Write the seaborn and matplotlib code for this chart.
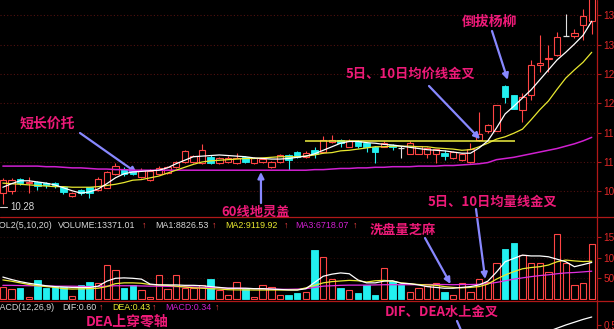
import matplotlib
matplotlib.use("Agg")
import matplotlib.pyplot as plt
from matplotlib.lines import Line2D
import numpy as np
import pandas as pd
import seaborn as sns

# ---- daily bars ----
opens = [10.47, 10.50, 10.71, 10.64, 10.66, 10.64, 10.64, 10.57, 10.42, 10.52,
         10.57, 10.52, 10.56, 10.80, 10.88, 10.86, 10.74, 10.70, 10.80, 10.81,
         10.92, 11.00, 11.00, 10.98, 11.09, 10.98, 11.00, 10.98, 11.09, 10.98,
         11.00, 10.92, 11.00, 11.12, 11.17, 11.08, 11.21, 11.17, 11.34, 11.38,
         11.26, 11.36, 11.32, 11.26, 11.26, 11.29, 11.24, 11.14, 11.14, 11.14,
         11.14, 11.15, 11.07, 11.03, 11.00, 11.38, 11.53, 11.53, 12.30, 12.14,
         11.89, 12.14, 12.65, 12.75, 12.82, 13.15, 13.15, 13.34, 13.41]
highs = [10.72, 10.72, 10.73, 10.74, 10.68, 10.66, 10.66, 10.59, 10.49, 10.54,
         10.58, 10.74, 10.85, 10.98, 10.91, 10.88, 10.90, 10.88, 10.93, 10.94,
         11.02, 11.20, 11.12, 11.31, 11.12, 11.09, 11.10, 11.15, 11.10, 11.08,
         11.07, 11.02, 11.14, 11.14, 11.19, 11.18, 11.26, 11.44, 11.46, 11.40,
         11.39, 11.37, 11.33, 11.28, 11.36, 11.30, 11.28, 11.36, 11.28, 11.25,
         11.23, 11.21, 11.18, 11.15, 11.32, 11.85, 11.65, 11.98, 12.31, 12.15,
         12.17, 12.74, 13.16, 12.99, 13.21, 13.52, 13.26, 13.60, 14.05]
lows = [10.28, 10.45, 10.61, 10.47, 10.52, 10.55, 10.56, 10.45, 10.40, 10.44,
        10.39, 10.50, 10.55, 10.78, 10.76, 10.77, 10.72, 10.68, 10.78, 10.80,
        10.90, 10.98, 10.98, 10.96, 10.97, 10.96, 10.99, 10.97, 10.98, 10.97,
        10.98, 10.90, 10.99, 10.86, 11.06, 11.06, 11.07, 11.15, 11.32, 11.26,
        11.25, 11.24, 11.17, 10.98, 11.25, 11.20, 11.07, 11.13, 11.13, 11.07,
        10.98, 11.03, 11.05, 11.02, 10.99, 11.36, 11.49, 11.52, 12.00, 11.90,
        11.69, 12.06, 12.54, 12.54, 12.81, 13.15, 13.11, 13.08, 13.19]
closes = [10.69, 10.69, 10.64, 10.66, 10.59, 10.61, 10.59, 10.49, 10.47, 10.47,
          10.47, 10.71, 10.83, 10.93, 10.80, 10.80, 10.86, 10.85, 10.90, 10.92,
          11.00, 11.18, 11.10, 11.20, 10.99, 11.07, 11.07, 11.07, 11.00, 11.07,
          11.05, 11.00, 11.12, 11.03, 11.08, 11.16, 11.14, 11.38, 11.37, 11.33,
          11.36, 11.27, 11.26, 11.17, 11.32, 11.25, 11.24, 11.32, 11.27, 11.24,
          11.22, 11.10, 11.17, 11.14, 11.22, 11.48, 11.63, 11.97, 12.11, 11.90,
          12.10, 12.65, 12.69, 12.78, 13.13, 13.15, 13.20, 13.48, 13.98]
volumes = [2970, 2340, 2580, 560, 4590, 2580, 2970, 2970, 800, 3380,
           4180, 3790, 8210, 7000, 2580, 3380, 2170, 560, 5800, 2340,
           5800, 2580, 2580, 3500, 4750, 2170, 970, 4180, 2580, 560,
           3380, 2970, 970, 970, 1370, 1690, 11950, 10140, 4760, 2660,
           2170, 1330, 3380, 970, 7410, 4350, 3380, 1760, 2580, 3140,
           3790, 1760, 970, 3790, 1620, 4830, 4180, 8620, 12000, 13600,
           10630, 8770, 8620, 6500, 15700, 8800, 3380, 3790, 13371.01]

# moving averages on the price panel
ma5 = [10.57, 10.63, 10.68, 10.68, 10.66, 10.64, 10.61, 10.56, 10.51, 10.47,
       10.49, 10.54, 10.63, 10.73, 10.80, 10.83, 10.84, 10.85, 10.86, 10.90,
       10.97, 11.03, 11.09, 11.10, 11.11, 11.12, 11.11, 11.10, 11.09, 11.07,
       11.06, 11.05, 11.05, 11.06, 11.08, 11.10, 11.14, 11.20, 11.26, 11.32,
       11.35, 11.35, 11.33, 11.32, 11.30, 11.29, 11.27, 11.25, 11.23, 11.21,
       11.20, 11.19, 11.17, 11.15, 11.15, 11.24, 11.36, 11.58, 11.82, 11.95,
       12.09, 12.23, 12.40, 12.57, 12.74, 12.87, 13.01, 13.16, 13.40]
ma10 = [10.64, 10.63, 10.62, 10.61, 10.60, 10.59, 10.58, 10.58, 10.57, 10.57,
        10.57, 10.58, 10.60, 10.62, 10.65, 10.69, 10.70, 10.73, 10.76, 10.81,
        10.86, 10.91, 10.96, 11.00, 11.02, 11.03, 11.04, 11.05, 11.06, 11.06,
        11.07, 11.08, 11.09, 11.09, 11.09, 11.10, 11.12, 11.15, 11.16, 11.19,
        11.20, 11.22, 11.24, 11.26, 11.26, 11.27, 11.27, 11.27, 11.26, 11.26,
        11.24, 11.23, 11.22, 11.20, 11.21, 11.26, 11.32, 11.39, 11.43, 11.49,
        11.56, 11.72, 11.89, 12.04, 12.24, 12.43, 12.57, 12.70, 12.87]
ma60 = [10.93, 10.93, 10.93, 10.93, 10.93, 10.92, 10.92, 10.91, 10.90, 10.90,
        10.89, 10.88, 10.88, 10.87, 10.87, 10.86, 10.86, 10.86, 10.86, 10.86,
        10.86, 10.86, 10.86, 10.86, 10.86, 10.86, 10.86, 10.86, 10.86, 10.86,
        10.86, 10.86, 10.86, 10.86, 10.86, 10.86, 10.87, 10.87, 10.88, 10.89,
        10.89, 10.90, 10.90, 10.91, 10.91, 10.92, 10.92, 10.92, 10.93, 10.93,
        10.93, 10.94, 10.94, 10.95, 10.96, 10.97, 10.99, 11.04, 11.06, 11.08,
        11.11, 11.14, 11.17, 11.20, 11.23, 11.27, 11.31, 11.36, 11.42]

# moving averages of volume
vma5 = [5300, 4700, 4200, 3800, 3500, 3200, 3000, 2900, 2800, 2800,
        2800, 3100, 4300, 5000, 5100, 5000, 4800, 3600, 3400, 3400,
        3400, 3300, 3300, 3200, 3000, 2800, 2600, 2600, 2600, 2500,
        2500, 2400, 2300, 2200, 2170, 2500, 4000, 5500, 6000, 6300,
        6100, 4600, 3900, 3900, 4300, 4400, 3800, 3700, 3400, 3000,
        2800, 2600, 2600, 2800, 3000, 3400, 4300, 6500, 9000, 9800,
        10600, 10400, 10400, 10200, 9600, 9000, 7800, 8300, 8826.53]
vma10 = [4600, 4300, 3900, 3500, 3200, 3000, 2800, 2500, 2400, 2450,
         2500, 2600, 3000, 3700, 3900, 3900, 3800, 3500, 3400, 3300,
         3100, 2900, 2700, 2600, 2500, 2400, 2250, 2200, 2200, 2170,
         2170, 2170, 2170, 2170, 2200, 2700, 3300, 3900, 4200, 4350,
         4500, 4400, 4100, 4400, 4500, 4300, 3900, 3700, 3500, 3400,
         3300, 3000, 2800, 2700, 2800, 3000, 3600, 4800, 5800, 6600,
         7300, 7600, 7800, 8200, 9000, 9400, 9200, 9050, 9119.92]
vma20 = [3300, 3300, 3250, 3200, 3200, 3150, 3100, 3100, 3100, 3050,
         3000, 3000, 3100, 3200, 3200, 3200, 3150, 3100, 3100, 3050,
         3000, 2950, 2900, 2800, 2750, 2700, 2600, 2600, 2550, 2500,
         2450, 2400, 2350, 2350, 2400, 2500, 2800, 3100, 3200, 3300,
         3350, 3350, 3350, 3400, 3450, 3450, 3450, 3450, 3450, 3500,
         3500, 3500, 3450, 3500, 3500, 3550, 3700, 4000, 4400, 4800,
         5100, 5400, 5650, 5850, 6100, 6300, 6400, 6550, 6718.07]

# MACD lines for the latest sessions
macd_start = 61
dif_tail = [0.36, 0.39, 0.42, 0.46, 0.50, 0.535, 0.57, 0.60]
dea_tail = [0.30, 0.32, 0.34, 0.36, 0.38, 0.40, 0.415, 0.43]

price_ticks = [10.5, 11.0, 11.5, 12.0, 12.5, 13.0, 13.5]
volume_ticks = [5000, 10000, 15000]
macd_ticks = [0.5]
lowest_price = 10.28

# resistance line across the consolidation box
box_top = 11.36
box_from, box_to = 34.9, 59.1

# ---- colours ----
BG = "#000000"
UP = "#ff4444"
DOWN = "#22f0f0"
AXIS_RED = "#b01818"
GRID_RED = "#501010"
TICK_RED = "#e02828"
YELLOW = "#e8e830"
MAGENTA = "#d020d0"
PINK = "#ee1a78"
ARROW = "#8888ff"
LABEL_GREY = "#d8d8d8"

sns.set_theme(style="dark", rc={"axes.facecolor": BG, "figure.facecolor": BG,
                                "axes.grid": False})
plt.rcParams["font.family"] = ["Liberation Sans", "DejaVu Sans"]
CJK = ["Noto Sans CJK SC", "DejaVu Sans"]

W, H = 614, 329
fig = plt.figure(figsize=(W / 100, H / 100), dpi=100)


def fx(px):
    return px / W


def fy(py):
    return 1 - py / H


RIGHT = 597
n = len(closes)
idx = np.arange(n)
xlim = (-2.85 / 8.66, (RIGHT - 2.85) / 8.66)
PRICE_LIM = (11 - 55 / 58.67, 11 + 162 / 58.67)
VOL_LIM = (-241.5, 71 * 241.5)
MACD_LIM = (0.45, 0.7875)

ax_p = fig.add_axes([0, fy(217), fx(RIGHT), 217 / H])
ax_v = fig.add_axes([0, fy(300), fx(RIGHT), 72 / H])
ax_m = fig.add_axes([0, fy(329), fx(RIGHT), 27 / H])

for ax in (ax_p, ax_v, ax_m):
    ax.set_facecolor(BG)
    for s in ax.spines.values():
        s.set_visible(False)
    ax.set_xticks([])
    ax.yaxis.tick_right()
    ax.tick_params(axis="y", colors=AXIS_RED, labelcolor=TICK_RED, length=3,
                   width=0.8, pad=1.5, labelsize=7.2, direction="out")

ax_p.set_yticks(price_ticks)
ax_p.set_yticklabels([f"{v:.2f}" for v in price_ticks])
ax_v.set_yticks(volume_ticks)
ax_v.set_yticklabels([f"{v:d}" for v in volume_ticks])
ax_m.set_yticks(macd_ticks)
ax_m.set_yticklabels([f"{v:.2f}" for v in macd_ticks])

# dotted grids
ax_p.hlines(price_ticks, xlim[0], xlim[1], colors=GRID_RED, lw=0.8,
            linestyles=(0, (1, 2)), zorder=0)
ax_v.hlines(volume_ticks, xlim[0], xlim[1], colors="#2c0a0a", lw=0.8,
            linestyles=(0, (1, 2)), zorder=0)

o = np.array(opens)
c = np.array(closes)
h = np.array(highs)
l = np.array(lows)
v = np.array(volumes)
up = c > o
down = c < o
flat = c == o
BW = 0.74

# candles: hollow red for rising days, solid cyan for falling days
top = np.maximum(o, c)
bot = np.minimum(o, c)
ax_p.vlines(idx[up], top[up], h[up], colors=UP, lw=0.8, zorder=2)
ax_p.vlines(idx[up], l[up], bot[up], colors=UP, lw=0.8, zorder=2)
ax_p.bar(idx[up], (top - bot)[up], bottom=bot[up], width=BW, facecolor=BG,
         edgecolor=UP, linewidth=0.8, zorder=3)
ax_p.vlines(idx[down], l[down], h[down], colors=DOWN, lw=0.8, zorder=2)
ax_p.bar(idx[down], (top - bot)[down], bottom=bot[down], width=BW,
         facecolor=DOWN, edgecolor=DOWN, linewidth=0.6, zorder=3)
ax_p.vlines(idx[flat], l[flat], h[flat], colors="#e0e0e0", lw=0.8, zorder=2)
ax_p.hlines(c[flat], idx[flat] - BW / 2, idx[flat] + BW / 2, colors="#e0e0e0",
            lw=0.9, zorder=3)

# volume bars follow the candle colour (flat days compare with the prior close)
prev = np.concatenate([[c[0]], c[:-1]])
vol_up = up | (flat & (c >= prev))
vol_dn = ~vol_up
ax_v.bar(idx[vol_up], v[vol_up], width=BW, facecolor=BG, edgecolor=UP,
         linewidth=0.8, zorder=2)
ax_v.bar(idx[vol_dn], v[vol_dn], width=BW, facecolor=DOWN, edgecolor=DOWN,
         linewidth=0.6, zorder=2)

price_df = pd.DataFrame({"i": idx, "ma5": ma5, "ma10": ma10, "ma60": ma60})
sns.lineplot(data=price_df, x="i", y="ma60", ax=ax_p, color=MAGENTA, lw=1.1, zorder=4)
sns.lineplot(data=price_df, x="i", y="ma10", ax=ax_p, color=YELLOW, lw=0.9, zorder=5)
sns.lineplot(data=price_df, x="i", y="ma5", ax=ax_p, color="white", lw=0.9, zorder=6)

vol_df = pd.DataFrame({"i": idx, "m5": vma5, "m10": vma10, "m20": vma20})
sns.lineplot(data=vol_df, x="i", y="m20", ax=ax_v, color="#e030e0", lw=0.9, zorder=4)
sns.lineplot(data=vol_df, x="i", y="m10", ax=ax_v, color=YELLOW, lw=0.9, zorder=5)
sns.lineplot(data=vol_df, x="i", y="m5", ax=ax_v, color="white", lw=0.9, zorder=6)

tail_i = np.arange(macd_start, macd_start + len(dif_tail))
macd_df = pd.DataFrame({"i": tail_i, "dif": dif_tail, "dea": dea_tail})
sns.lineplot(data=macd_df, x="i", y="dea", ax=ax_m, color=YELLOW, lw=0.9)
sns.lineplot(data=macd_df, x="i", y="dif", ax=ax_m, color="white", lw=0.9)

# breakout level of the sideways box
ax_p.hlines(box_top, box_from, box_to, colors="#f0f040", lw=1.1, zorder=5)

for ax, lim in ((ax_p, PRICE_LIM), (ax_v, VOL_LIM), (ax_m, MACD_LIM)):
    ax.set_xlim(*xlim)
    ax.set_ylim(*lim)
    ax.set_xlabel("")
    ax.set_ylabel("")

# frame lines
fig.add_artist(Line2D([fx(RIGHT), fx(RIGHT)], [0, 1], color=AXIS_RED, lw=0.9))
for yy in (217, 301):
    fig.add_artist(Line2D([0, 1], [fy(yy), fy(yy)], color=AXIS_RED, lw=0.9))

# lowest price marker
fig.add_artist(Line2D([fx(0), fx(7)], [fy(207), fy(207)], color=LABEL_GREY, lw=0.8))
fig.text(fx(10), fy(207), f"{lowest_price:.2f}", color=LABEL_GREY, fontsize=7.0,
         va="center", ha="left")


# indicator header rows
def header(parts, y):
    for x, txt, col in parts:
        fig.text(fx(x), fy(y), txt, color=col, fontsize=6.4, va="center", ha="left")


header([(-6, "VOL2(5,10,20)", LABEL_GREY),
        (58, f"VOLUME:{volumes[-1]:.2f}", LABEL_GREY), (142, "↑", UP),
        (155, f"MA1:{vma5[-1]:.2f}", LABEL_GREY), (212, "↑", UP),
        (225, f"MA2:{vma10[-1]:.2f}", YELLOW), (284, "↑", UP),
        (295, f"MA3:{vma20[-1]:.2f}", MAGENTA), (353, "↑", UP)], 225)
dif_last, dea_last = dif_tail[-1], dea_tail[-1]
header([(-7.4, "MACD(12,26,9)", LABEL_GREY),
        (62, f"DIF:{dif_last:.2f}", LABEL_GREY), (99, "↑", UP),
        (112, f"DEA:{dea_last:.2f}", YELLOW), (152, "↑", UP),
        (165, f"MACD:{2 * (dif_last - dea_last):.2f}", MAGENTA), (215, "↑", UP)], 307)


# annotations
def note(text, x, y, size=10):
    fig.text(fx(x), fy(y), text, color=PINK, fontsize=size, fontweight="bold",
             family=CJK, ha="center", va="center")


def arrow(ax, xy, start):
    ax.annotate("", xy=xy, xycoords="data",
                xytext=(fx(start[0]), fy(start[1])), textcoords="figure fraction",
                annotation_clip=False,
                arrowprops=dict(arrowstyle="-|>", color=ARROW, lw=1.6,
                                mutation_scale=9, shrinkA=0, shrinkB=0))


note("短长价托", 47, 124)
arrow(ax_p, (15.5, 10.81), (80, 133))
note("60线地灵盖", 256, 212, 9.5)
arrow(ax_p, (29.8, 10.83), (261, 203))
note("5日、10日均价线金叉", 410, 74, 9.5)
arrow(ax_p, (55.1, 11.39), (429, 86))
note("倒拔杨柳", 490, 22)
arrow(ax_p, (58.3, 12.40), (492, 31))
note("5日、10日均量线金叉", 492, 202, 9.5)
arrow(ax_v, (55.7, 4830), (476, 209))
note("洗盘量芝麻", 403, 230, 9.5)
arrow(ax_v, (51.7, 3620), (425, 238))
note("DEA上穿零轴", 127, 322)
note("DIF、DEA水上金叉", 442, 312, 9.5)
arrow(ax_m, (53.4, 0.31), (457, 321))

fig.savefig("out.png", dpi=100, facecolor=BG)
